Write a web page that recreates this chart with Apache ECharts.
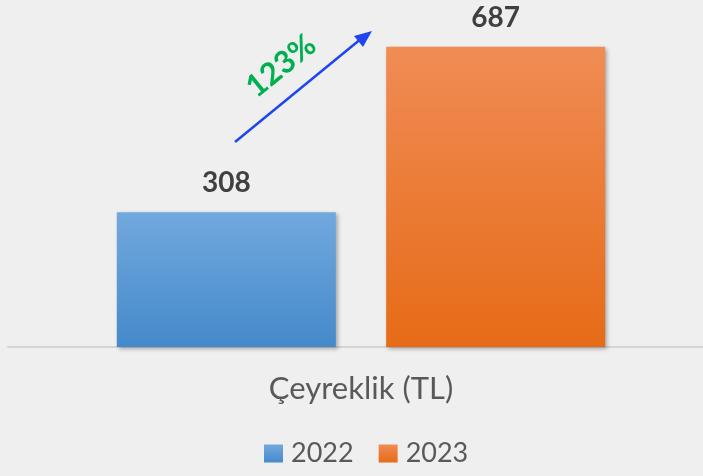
<!DOCTYPE html>
<html>
<head>
<meta charset="utf-8">
<script src="https://cdn.jsdelivr.net/npm/echarts@6/dist/echarts.min.js"></script>
<style>
  html, body { margin: 0; padding: 0; background: #efefef; }
  #chart { width: 703px; height: 476px; }
</style>
</head>
<body>
<div id="chart"></div>
<script>
var categories = ['Çeyreklik (TL)'];
var years = ['2022', '2023'];
var values2022 = [308];
var values2023 = [687];
var growthText = '123%';

var chart = echarts.init(document.getElementById('chart'));

function barColor(top, bottom) {
    return new echarts.graphic.LinearGradient(0, 0, 0, 1, [
        {offset: 0, color: top},
        {offset: 1, color: bottom}
    ]);
}

var labelStyle = {
    show: true,
    position: 'top',
    distance: 15,
    fontFamily: 'Lato',
    fontWeight: 'bold',
    fontSize: 28,
    color: '#404040'
};

var option = {
    backgroundColor: '#efefef',
    animation: false,
    grid: {left: 8, right: -11, top: 6, bottom: 129, outerBoundsMode: 'none'},
    legend: {
        data: years,
        bottom: 4,
        left: 259,
        itemWidth: 19,
        itemHeight: 18,
        itemGap: 25,
        icon: 'rect',
        textStyle: {fontFamily: 'Lato', fontSize: 27, color: '#595959', padding: [0, 0, 0, 3]}
    },
    xAxis: {
        type: 'category',
        data: categories,
        axisTick: {show: false},
        axisLine: {lineStyle: {color: '#d4d4d4', width: 2}},
        axisLabel: {
            margin: 26,
            fontFamily: 'Lato',
            fontSize: 31,
            color: '#595959'
        }
    },
    yAxis: {
        type: 'value',
        min: 0,
        max: 780,
        show: false,
        splitLine: {show: false}
    },
    series: [
        {
            name: years[0],
            type: 'bar',
            data: values2022,
            barWidth: 219,
            barGap: '23%',
            itemStyle: {
                color: barColor('#72a9de', '#4489ca'),
                shadowBlur: 4,
                shadowOffsetX: 2,
                shadowOffsetY: 2,
                shadowColor: 'rgba(0,0,0,0.3)'
            },
            label: labelStyle
        },
        {
            name: years[1],
            type: 'bar',
            data: values2023,
            barWidth: 219,
            itemStyle: {
                color: barColor('#f08c55', '#e66b17'),
                shadowBlur: 4,
                shadowOffsetX: 2,
                shadowOffsetY: 2,
                shadowColor: 'rgba(0,0,0,0.3)'
            },
            label: labelStyle
        }
    ],
    graphic: [
        {
            type: 'line',
            shape: {x1: 235, y1: 142, x2: 362, y2: 38},
            style: {stroke: '#1f45f0', lineWidth: 2.5}
        },
        {
            type: 'polygon',
            shape: {points: [[372, 31], [354, 36], [363, 47]]},
            style: {fill: '#1f45f0'}
        },
        {
            type: 'text',
            x: 281,
            y: 66,
            rotation: 39 * Math.PI / 180,
            style: {
                text: growthText,
                fontFamily: 'Lato',
                fontWeight: 'bold',
                fontSize: 31,
                fill: '#00b050',
                align: 'center',
                verticalAlign: 'middle'
            }
        }
    ]
};

chart.setOption(option);
</script>
</body>
</html>
